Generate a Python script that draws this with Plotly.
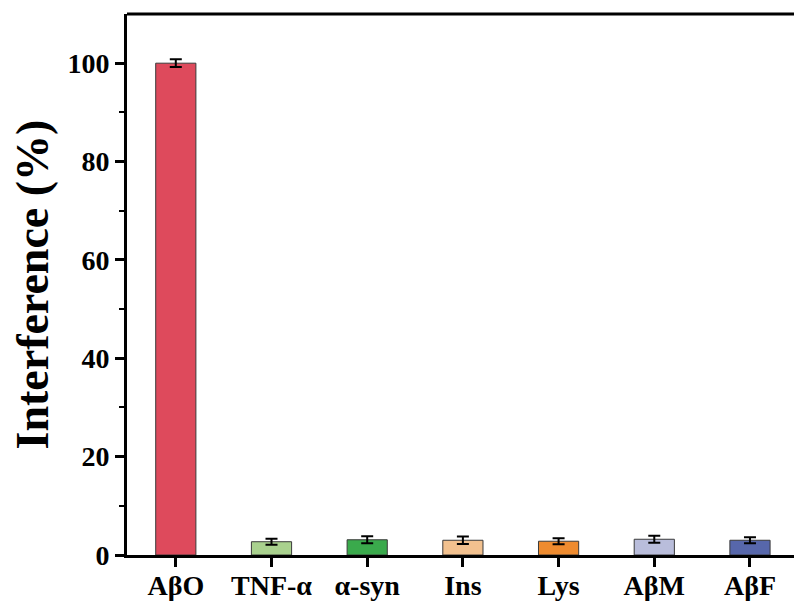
import plotly.graph_objects as go

categories = ["AβO", "TNF-α", "α-syn", "Ins", "Lys", "AβM", "AβF"]
values = [100.0, 2.7, 3.1, 3.0, 2.8, 3.2, 3.0]
errors = [0.8, 0.6, 0.7, 0.75, 0.6, 0.7, 0.6]
colors = ["#DE4A5C", "#A9D18E", "#3AAA4C", "#F2C18F", "#EE8B2F", "#B9BDDB", "#5767AB"]
y_ticks = [0, 20, 40, 60, 80, 100]
y_title = "Interference (%)"

font_family = "Liberation Serif, Times New Roman, serif"
W, H = 794, 606
ML, MR, MT, MB = 127, 0, 14, 51

fig = go.Figure()
fig.add_trace(go.Bar(
    x=list(range(len(categories))),
    y=values,
    width=0.42,
    marker=dict(color=colors, line=dict(color="#3a3a3a", width=1)),
    error_y=dict(type="data", array=errors, visible=True,
                 color="black", thickness=2, width=6),
))

fig.update_layout(
    width=W, height=H,
    margin=dict(l=ML, r=MR, t=MT, b=MB),
    plot_bgcolor="white", paper_bgcolor="white",
    showlegend=False,
    font=dict(family=font_family, color="black"),
    xaxis=dict(
        range=[-0.51, 6.46],
        tickmode="array",
        tickvals=list(range(len(categories))),
        ticktext=categories,
        tickfont=dict(size=28, family=font_family, weight="bold"),
        ticklabelstandoff=-6,
        showline=True, linecolor="black", linewidth=3,
        mirror=False,
        ticks="outside", ticklen=9, tickwidth=3, tickcolor="black",
        showgrid=False, zeroline=False,
    ),
    yaxis=dict(
        range=[0, 110],
        tickmode="array",
        tickvals=y_ticks,
        tickfont=dict(size=28, family=font_family, weight="bold"),
        showline=True, linecolor="black", linewidth=3,
        ticks="outside", ticklen=9, tickwidth=3, tickcolor="black",
        minor=dict(tickvals=[10, 30, 50, 70, 90], ticks="outside",
                   ticklen=5, tickwidth=2, tickcolor="black"),
        showgrid=False, zeroline=False,
    ),
)

# rotated y-axis title, centred on the plot height
plot_w = W - ML - MR
fig.add_annotation(
    text=y_title, textangle=-90, showarrow=False,
    xref="paper", yref="paper",
    x=-(ML - 32) / plot_w, y=0.5,
    xanchor="center", yanchor="middle",
    font=dict(size=46, family=font_family, weight="bold", color="black"),
)

# top frame line across the plot area
fig.add_shape(type="line", xref="paper", yref="paper",
              x0=0, x1=1, y0=1, y1=1,
              line=dict(color="black", width=3))

fig.write_html("out.html")
